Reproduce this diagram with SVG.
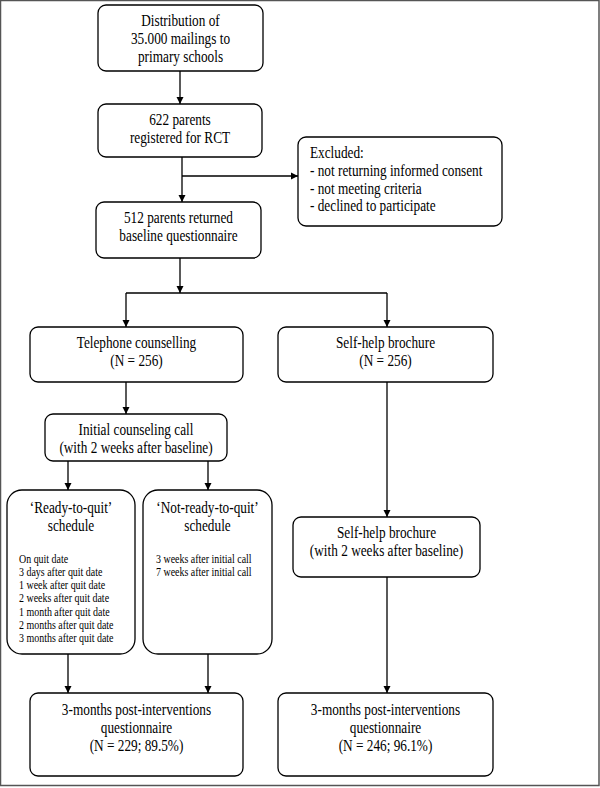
<svg xmlns="http://www.w3.org/2000/svg" width="600" height="788" viewBox="0 0 600 788">
<defs>
<marker id="ah" viewBox="0 0 10 10" refX="10" refY="5" markerWidth="7" markerHeight="8" markerUnits="userSpaceOnUse" orient="auto"><path d="M0,0 L10,5 L0,10 z" fill="#000"/></marker>
<style>
.box{fill:#fff;stroke:#000;stroke-width:1.3}
.t{font-family:"Liberation Serif","Times New Roman",serif;font-size:16px;fill:#000;text-anchor:middle}
.tl{font-family:"Liberation Serif","Times New Roman",serif;font-size:16px;fill:#000}
.s{font-family:"Liberation Serif","Times New Roman",serif;font-size:12px;fill:#000}
.c{fill:none;stroke:#000;stroke-width:1.3}
</style>
</defs>
<rect x="0.5" y="0.5" width="598.5" height="785" fill="#fff" stroke="#555" stroke-width="1.5"/>
<g id="connectors">
<path class="c" d="M180,71 V104" marker-end="url(#ah)"/>
<path class="c" d="M182,157 V202" marker-end="url(#ah)"/>
<path class="c" d="M182,176 H298" marker-end="url(#ah)"/>
<path class="c" d="M180,258 V293" marker-end="url(#ah)"/>
<path class="c" d="M126,293 H387"/>
<path class="c" d="M126,293 V327" marker-end="url(#ah)"/>
<path class="c" d="M387,293 V327" marker-end="url(#ah)"/>
<path class="c" d="M126,382 V414" marker-end="url(#ah)"/>
<path class="c" d="M68,461 V490" marker-end="url(#ah)"/>
<path class="c" d="M208,461 V490" marker-end="url(#ah)"/>
<path class="c" d="M387,382 V517" marker-end="url(#ah)"/>
<path class="c" d="M68,654 V693" marker-end="url(#ah)"/>
<path class="c" d="M208,654 V693" marker-end="url(#ah)"/>
<path class="c" d="M387,577 V693" marker-end="url(#ah)"/>
</g>
<g id="distribution">
<rect class="box" x="98" y="5" width="165" height="66" rx="8"/>
<g transform="matrix(0.83,0,0,1,30.685,0)">
<text class="t" x="180.5" y="26">Distribution of</text>
<text class="t" x="180.5" y="44">35.000 mailings to</text>
<text class="t" x="180.5" y="62">primary schools</text>
</g>
</g>
<g id="registered">
<rect class="box" x="98" y="104" width="164" height="53" rx="8"/>
<g transform="matrix(0.83,0,0,1,30.6,0)">
<text class="t" x="180" y="125">622 parents</text>
<text class="t" x="180" y="143">registered for RCT</text>
</g>
</g>
<g id="excluded">
<rect class="box" x="298" y="137" width="204" height="89" rx="8"/>
<g transform="matrix(0.83,0,0,1,52.7,0)">
<text class="tl" x="310" y="158">Excluded:</text>
<text class="tl" x="310" y="176">- not returning informed consent</text>
<text class="tl" x="310" y="194">- not meeting criteria</text>
<text class="tl" x="310" y="211">- declined to participate</text>
</g>
</g>
<g id="baseline">
<rect class="box" x="96" y="202" width="165" height="56" rx="8"/>
<g transform="matrix(0.83,0,0,1,30.345,0)">
<text class="t" x="178.5" y="223">512 parents returned</text>
<text class="t" x="178.5" y="241">baseline questionnaire</text>
</g>
</g>
<g id="telephone">
<rect class="box" x="30" y="327" width="213" height="55" rx="8"/>
<g transform="matrix(0.83,0,0,1,23.205,0)">
<text class="t" x="136.5" y="348">Telephone counselling</text>
<text class="t" x="136.5" y="366">(N = 256)</text>
</g>
</g>
<g id="selfhelp">
<rect class="box" x="278" y="327" width="215" height="55" rx="8"/>
<g transform="matrix(0.83,0,0,1,65.535,0)">
<text class="t" x="385.5" y="348">Self-help brochure</text>
<text class="t" x="385.5" y="366">(N = 256)</text>
</g>
</g>
<g id="initial">
<rect class="box" x="45" y="414" width="182" height="47" rx="8"/>
<g transform="matrix(0.83,0,0,1,23.12,0)">
<text class="t" x="136" y="435">Initial counseling call</text>
<text class="t" x="136" y="453">(with 2 weeks after baseline)</text>
</g>
</g>
<g id="ready">
<rect class="box" x="7" y="490" width="128" height="164" rx="15"/>
<g transform="matrix(0.83,0,0,1,12.07,0)">
<text class="t" x="71" y="513">‘Ready-to-quit’</text>
<text class="t" x="71" y="531">schedule</text>
</g>
<g transform="matrix(0.83,0,0,1,3.23,0)">
<text class="s" x="19" y="563">On quit date</text>
<text class="s" x="19" y="576">3 days after quit date</text>
<text class="s" x="19" y="589">1 week after quit date</text>
<text class="s" x="19" y="602">2 weeks after quit date</text>
<text class="s" x="19" y="616">1 month after quit date</text>
<text class="s" x="19" y="629">2 months after quit date</text>
<text class="s" x="19" y="642">3 months after quit date</text>
</g>
</g>
<g id="notready">
<rect class="box" x="143" y="490" width="129" height="164" rx="15"/>
<g transform="matrix(0.83,0,0,1,35.275,0)">
<text class="t" x="207.5" y="513">‘Not-ready-to-quit’</text>
<text class="t" x="207.5" y="531">schedule</text>
</g>
<g transform="matrix(0.83,0,0,1,26.52,0)">
<text class="s" x="156" y="563">3 weeks after initial call</text>
<text class="s" x="156" y="576">7 weeks after initial call</text>
</g>
</g>
<g id="selfhelp2">
<rect class="box" x="293" y="517" width="187" height="60" rx="8"/>
<g transform="matrix(0.83,0,0,1,65.705,0)">
<text class="t" x="386.5" y="538">Self-help brochure</text>
<text class="t" x="386.5" y="556">(with 2 weeks after baseline)</text>
</g>
</g>
<g id="post-left">
<rect class="box" x="30" y="693" width="213" height="83" rx="8"/>
<g transform="matrix(0.83,0,0,1,23.205,0)">
<text class="t" x="136.5" y="715">3-months post-interventions</text>
<text class="t" x="136.5" y="733">questionnaire</text>
<text class="t" x="136.5" y="751">(N = 229; 89.5%)</text>
</g>
</g>
<g id="post-right">
<rect class="box" x="278" y="693" width="215" height="83" rx="8"/>
<g transform="matrix(0.83,0,0,1,65.535,0)">
<text class="t" x="385.5" y="715">3-months post-interventions</text>
<text class="t" x="385.5" y="733">questionnaire</text>
<text class="t" x="385.5" y="751">(N = 246; 96.1%)</text>
</g>
</g>
</svg>
